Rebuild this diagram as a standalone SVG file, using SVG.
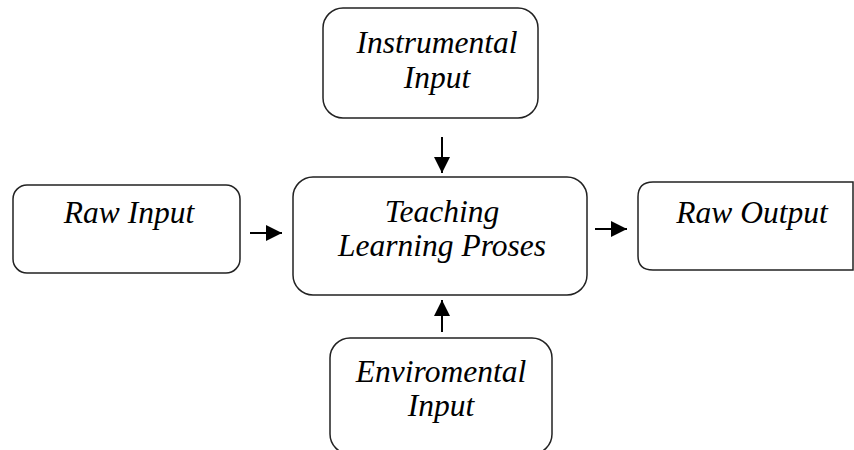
<svg xmlns="http://www.w3.org/2000/svg" width="854" height="450" viewBox="0 0 854 450">
<style>
.box{fill:#fff;stroke:#222;stroke-width:1.5}
.t{font-family:"Liberation Serif","Times New Roman",serif;font-style:italic;font-size:31.5px;fill:#000;text-anchor:middle}
.c{stroke:#000;stroke-width:2;fill:none}
</style>
<defs>
<marker id="ah" viewBox="0 0 10 10" refX="10" refY="5" markerWidth="8" markerHeight="8" orient="auto" markerUnits="strokeWidth">
<path d="M0,0 L10,5 L0,10 z" fill="#000"/>
</marker>
</defs>
<rect width="854" height="450" fill="#fff"/>
<g id="instrumental">
<rect class="box" x="323" y="8" width="215" height="110" rx="20"/>
<text class="t" x="437" y="53">Instrumental</text>
<text class="t" x="437" y="88">Input</text>
</g>
<g id="teaching">
<rect class="box" x="293" y="177" width="294" height="118" rx="20"/>
<text class="t" x="442" y="222">Teaching</text>
<text class="t" x="442" y="256">Learning Proses</text>
</g>
<g id="rawinput">
<rect class="box" x="13" y="185" width="227" height="88" rx="14"/>
<text class="t" x="129" y="223">Raw Input</text>
</g>
<g id="rawoutput">
<path class="box" d="M853,182 L653,182 Q638,182 638,197 L638,256 Q638,270 653,270 L853,270 Z"/>
<text class="t" x="752" y="223">Raw Output</text>
</g>
<g id="enviromental">
<rect class="box" x="330" y="338" width="222" height="116" rx="20"/>
<text class="t" x="441" y="382">Enviromental</text>
<text class="t" x="441" y="416">Input</text>
</g>
<g id="connectors">
<line class="c" x1="442" y1="137" x2="442" y2="173" marker-end="url(#ah)"/>
<line class="c" x1="442" y1="332" x2="442" y2="300" marker-end="url(#ah)"/>
<line class="c" x1="250" y1="233" x2="282" y2="233" marker-end="url(#ah)"/>
<line class="c" x1="595" y1="229" x2="627" y2="229" marker-end="url(#ah)"/>
</g>
</svg>
